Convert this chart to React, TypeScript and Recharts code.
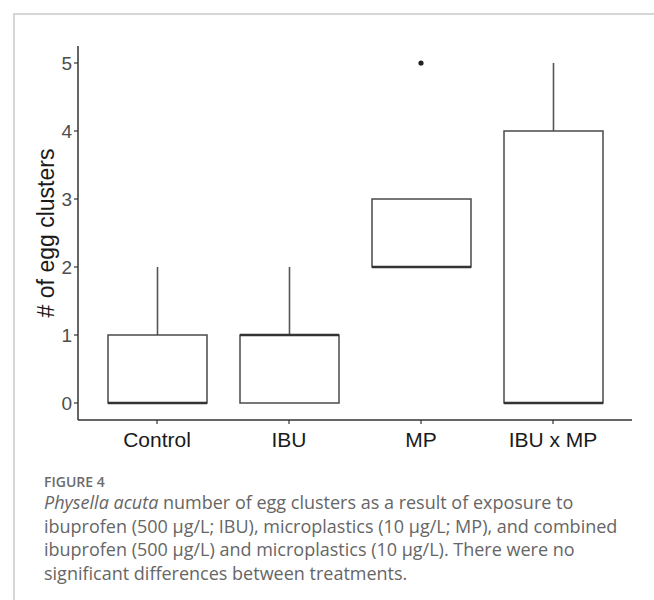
import React from "react";
import {
  ComposedChart,
  Bar,
  Scatter,
  XAxis,
  YAxis,
} from "recharts";

const treatments = ["Control", "IBU", "MP", "IBU x MP"];
const whiskerLow = [0, 0, 2, 0];
const quartile1 = [0, 0, 2, 0];
const medians = [0, 1, 2, 0];
const quartile3 = [1, 1, 3, 4];
const whiskerHigh = [2, 2, 3, 5];
const outliers: (number | null)[] = [null, null, 5, null];
const yTicks = [0, 1, 2, 3, 4, 5];

const captionLines = [
  ["Physella acuta", " number of egg clusters as a result of exposure to"],
  ["", "ibuprofen (500 µg/L; IBU), microplastics (10 µg/L; MP), and combined"],
  ["", "ibuprofen (500 µg/L) and microplastics (10 µg/L). There were no"],
  ["", "significant differences between treatments."],
];

const data = treatments.map((name, i) => ({
  name,
  range: [whiskerLow[i], whiskerHigh[i]],
  lo: whiskerLow[i],
  q1: quartile1[i],
  med: medians[i],
  q3: quartile3[i],
  hi: whiskerHigh[i],
  outlier: outliers[i],
}));

const FONT = "'Liberation Sans', Arial, sans-serif";

// draws the whole box + whiskers from the range bar's geometry
function BoxShape(props: any) {
  const { x, y, width, height, payload } = props;
  const { lo, q1, med, q3, hi } = payload;
  const top = Math.min(y, y + height);
  const h = Math.abs(height);
  const ppu = hi > lo ? h / (hi - lo) : 0;
  const py = (v: number) => top + (hi - v) * ppu;
  const cx = x + width / 2;
  return (
    <g>
      {hi > q3 && (
        <line x1={cx} x2={cx} y1={py(hi)} y2={py(q3)} stroke="#555" strokeWidth={1.6} />
      )}
      {q1 > lo && (
        <line x1={cx} x2={cx} y1={py(q1)} y2={py(lo)} stroke="#555" strokeWidth={1.6} />
      )}
      <rect
        x={x}
        y={py(q3)}
        width={width}
        height={py(q1) - py(q3)}
        fill="#fff"
        stroke="#4a4a4a"
        strokeWidth={1.5}
      />
      <line x1={x} x2={x + width} y1={py(med)} y2={py(med)} stroke="#333" strokeWidth={2.6} />
    </g>
  );
}

function YTitle(props: any) {
  const vb = props.viewBox || { x: 0, y: 46, width: 78, height: 374 };
  const cx = vb.x + 54;
  const cy = vb.y + vb.height / 2;
  return (
    <text
      x={cx}
      y={cy}
      transform={`rotate(-90, ${cx}, ${cy})`}
      textAnchor="middle"
      fontSize={23}
      fill="#1a1a1a"
      fontFamily={FONT}
    >
      # of egg clusters
    </text>
  );
}

export default function App() {
  return (
    <div style={{ position: "absolute", left: 0, top: 0, width: 654, height: 600, background: "#fff" }}>
      <div
        style={{
          position: "absolute",
          left: 13,
          top: 13,
          width: 641,
          height: 587,
          borderTop: "2px solid #d6d6d6",
          borderLeft: "2px solid #d6d6d6",
        }}
      />
      <div style={{ position: "absolute", left: 0, top: 0 }}>
        <ComposedChart
          width={654}
          height={460}
          data={data}
          margin={{ top: 46, right: 22, left: 0, bottom: 0 }}
        >
          <XAxis
            dataKey="name"
            type="category"
            padding={{ left: 13, right: 13 }}
            height={40}
            tickSize={4}
            tickMargin={8}
            axisLine={{ stroke: "#333", strokeWidth: 1.5 }}
            tickLine={{ stroke: "#333", strokeWidth: 1.2 }}
            tick={{ fontSize: 21, fill: "#1a1a1a", fontFamily: FONT }}
            interval={0}
          />
          <YAxis
            type="number"
            domain={[-0.25, 5.25]}
            ticks={yTicks}
            allowDataOverflow
            width={78}
            tickSize={4}
            tickMargin={2}
            axisLine={{ stroke: "#333", strokeWidth: 1.5 }}
            tickLine={{ stroke: "#333", strokeWidth: 1.2 }}
            tick={{ fontSize: 19, fill: "#4d4d4d", fontFamily: FONT }}
            label={<YTitle />}
          />
          <Bar
            dataKey="range"
            barSize={99}
            shape={<BoxShape />}
            isAnimationActive={false}
          />
          <Scatter
            dataKey="outlier"
            fill="#222"
            shape={(p: any) =>
              p.cx == null || p.cy == null ? <g /> : <circle cx={p.cx} cy={p.cy} r={2.6} fill="#222" />
            }
            isAnimationActive={false}
          />
        </ComposedChart>
      </div>
      <div
        style={{
          position: "absolute",
          left: 44,
          top: 472,
          fontFamily: "'Open Sans', sans-serif",
          color: "#666",
          whiteSpace: "nowrap",
        }}
      >
        <div style={{ fontSize: 14, fontWeight: 600, lineHeight: "19px", color: "#6b6b6b" }}>FIGURE 4</div>
        {captionLines.map(([ital, rest], i) => (
          <div key={i} style={{ fontSize: 18, lineHeight: "23.7px" }}>
            {ital && <span style={{ fontStyle: "italic" }}>{ital}</span>}
            {rest}
          </div>
        ))}
      </div>
    </div>
  );
}
